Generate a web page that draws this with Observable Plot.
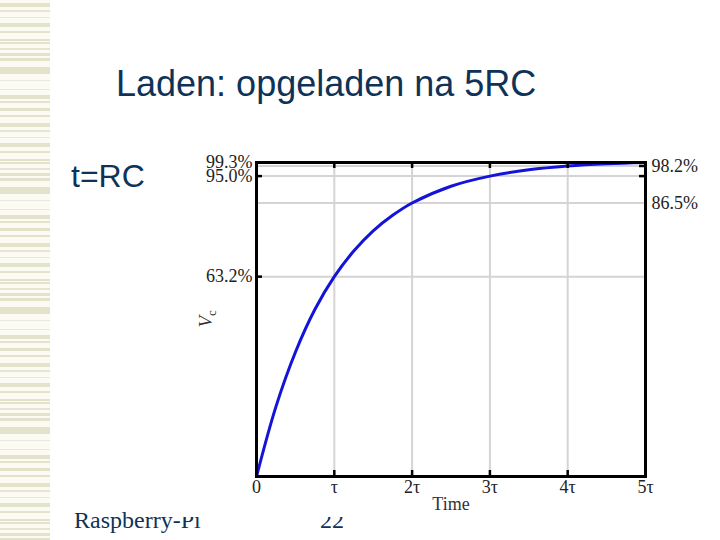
<!DOCTYPE html>
<html>
<head>
<meta charset="utf-8">
<script src="https://cdn.jsdelivr.net/npm/d3@7"></script>
<script src="https://cdn.jsdelivr.net/npm/@observablehq/plot@0.6"></script>
<style>
  html, body { margin: 0; padding: 0; background: #ffffff; }
  #page { position: relative; width: 720px; height: 540px; overflow: hidden; background: #ffffff; }
  #stripes {
    position: absolute; left: 0; top: 0; width: 50px; height: 540px;
    background: repeating-linear-gradient(to bottom,
      #fbfbf3 0px, #fbfbf3 3px, #e3e2cb 3px, #e3e2cb 7px, #fbfbf3 7px, #fbfbf3 10px,
      #e6e5d4 10px, #e6e5d4 12px, #fbfbf3 12px, #fbfbf3 17px, #e8e8e0 17px, #e8e8e0 18px,
      #fbfbf3 18px, #fbfbf3 23px, #e3e2cb 23px, #e3e2cb 27px, #fbfbf3 27px, #fbfbf3 31px,
      #e3e2cb 31px, #e3e2cb 33px, #fbfbf3 33px, #fbfbf3 39px, #e3e2cb 39px, #e3e2cb 41px,
      #fbfbf3 41px, #fbfbf3 42px, #e3e2cb 42px, #e3e2cb 44px, #fbfbf3 44px, #fbfbf3 48px,
      #e6e5d4 48px, #e6e5d4 50px, #fbfbf3 50px, #fbfbf3 53px, #e3e2cb 53px, #e3e2cb 56px,
      #fbfbf3 56px, #fbfbf3 58px, #e3e2cb 58px, #e3e2cb 61px, #fbfbf3 61px, #fbfbf3 67px,
      #e3e2cb 67px, #e3e2cb 74px, #fbfbf3 74px, #fbfbf3 80px, #e8e8e0 80px, #e8e8e0 81px,
      #fbfbf3 81px, #fbfbf3 89px, #e8e8e0 89px, #e8e8e0 90px, #fbfbf3 90px, #fbfbf3 95px,
      #e3e2cb 95px, #e3e2cb 99px, #fbfbf3 99px, #fbfbf3 101px, #e3e2cb 101px, #e3e2cb 103px,
      #fbfbf3 103px, #fbfbf3 108px, #e3e2cb 108px, #e3e2cb 111px, #fbfbf3 111px, #fbfbf3 115px,
      #e3e2cb 115px, #e3e2cb 117px, #fbfbf3 117px, #fbfbf3 120px);
  }
  #bg { position: absolute; left: 0; top: 0; }
  #chart { position: absolute; left: 180px; top: 140px; background: #ffffff; }
  #chart svg { background: #ffffff; display: block; }
</style>
</head>
<body>
<div id="page">
  <div id="stripes"></div>
  <svg id="bg" width="720" height="540">
    <text x="116" y="96" font-family="Liberation Sans, Arial, sans-serif" font-size="36" fill="#0f3358">Laden: opgeladen na 5RC</text>
    <text x="71" y="187" font-family="Liberation Sans, Arial, sans-serif" font-size="32" fill="#0f3358">t=RC</text>
    <text x="74" y="528" font-family="Liberation Serif, Times New Roman, serif" font-size="24" fill="#0f3358">Raspberry-Pi</text>
    <text x="320" y="528" font-family="Liberation Serif, Times New Roman, serif" font-size="24" fill="#0f3358">22</text>
  </svg>
  <div id="chart"></div>
</div>
<script>
// Time in units of tau (RC)
const times = [0, 0.25, 0.5, 0.75, 1, 1.25, 1.5, 1.75, 2, 2.5, 3, 3.5, 4, 4.5, 5];
// Capacitor voltage as fraction of supply
const vc = [0, 0.221, 0.393, 0.528, 0.632, 0.713, 0.777, 0.826, 0.865, 0.918, 0.950, 0.970, 0.982, 0.989, 0.993];

const xTicks = [0, 1, 2, 3, 4, 5];
const xTickLabels = ["0", "τ", "2τ", "3τ", "4τ", "5τ"];
const leftTicks = [0.993, 0.95, 0.632];
const leftTickLabels = ["99.3%", "95.0%", "63.2%"];
const rightTicks = [0.982, 0.865];
const rightTickLabels = ["98.2%", "86.5%"];
const rightTickMarks = [0.982, 0.95];
const hGrid = [0.982, 0.95, 0.865, 0.632];
const vGrid = [1, 2, 3, 4];

const data = times.map((t, i) => ({t, v: vc[i]}));

const W = 520, H = 377;
const mL = 76, mR = 55, mT = 22, mB = 41;
const innerW = W - mL - mR, innerH = H - mT - mB;

const chart = Plot.plot({
  width: W,
  height: H,
  marginLeft: mL,
  marginRight: mR,
  marginTop: mT,
  marginBottom: mB,
  style: {fontFamily: "Liberation Serif, Times New Roman, serif", fontSize: "18px", color: "#222", background: "#ffffff"},
  x: {domain: [0, 5]},
  y: {domain: [0, 0.993]},
  marks: [
    Plot.ruleY(hGrid, {stroke: "#d4d4d4", strokeWidth: 2}),
    Plot.ruleX(vGrid, {stroke: "#d4d4d4", strokeWidth: 2}),
    Plot.line(data, {x: "t", y: "v", stroke: "#1414d8", strokeWidth: 3, curve: "catmull-rom"}),
    // inward tick marks
    Plot.tickY(leftTicks, {y: d => d, stroke: "black", strokeWidth: 2.5, insetRight: innerW - 6}),
    Plot.tickY(rightTickMarks, {y: d => d, stroke: "black", strokeWidth: 2.5, insetLeft: innerW - 6}),
    Plot.tickX(vGrid, {x: d => d, stroke: "black", strokeWidth: 2.5, insetTop: innerH - 6}),
    Plot.tickX(vGrid, {x: d => d, stroke: "black", strokeWidth: 2.5, insetBottom: innerH - 6}),
    Plot.axisY(leftTicks, {anchor: "left", tickSize: 0, tickPadding: 4, label: null,
      tickFormat: d => leftTickLabels[leftTicks.indexOf(d)], fill: "#222"}),
    Plot.axisY(rightTicks, {anchor: "right", tickSize: 0, tickPadding: 6, label: null,
      tickFormat: d => rightTickLabels[rightTicks.indexOf(d)], fill: "#222"}),
    Plot.axisX(xTicks, {anchor: "bottom", tickSize: 0, tickPadding: 4, label: null,
      tickFormat: d => xTickLabels[xTicks.indexOf(d)], fill: "#222"}),
    Plot.text(["Time"], {frameAnchor: "bottom", dy: 33, fill: "#333", fontSize: 18}),
    Plot.text(["Vc"], {frameAnchor: "left", dx: -51, dy: 8, rotate: -90, fill: "#333", fontSize: 19, className: "vc-label"}),
    Plot.frame({stroke: "black", strokeWidth: 3})
  ]
});
document.getElementById("chart").appendChild(chart);

// Make the "c" of Vc a subscript and the V italic
const vcText = chart.querySelector(".vc-label text");
if (vcText) {
  vcText.textContent = "";
  const ns = "http://www.w3.org/2000/svg";
  const tV = document.createElementNS(ns, "tspan");
  tV.setAttribute("font-style", "italic");
  tV.textContent = "V";
  const tC = document.createElementNS(ns, "tspan");
  tC.setAttribute("font-size", "13");
  tC.setAttribute("dy", "4");
  tC.textContent = "c";
  vcText.appendChild(tV);
  vcText.appendChild(tC);
}
</script>
</body>
</html>
